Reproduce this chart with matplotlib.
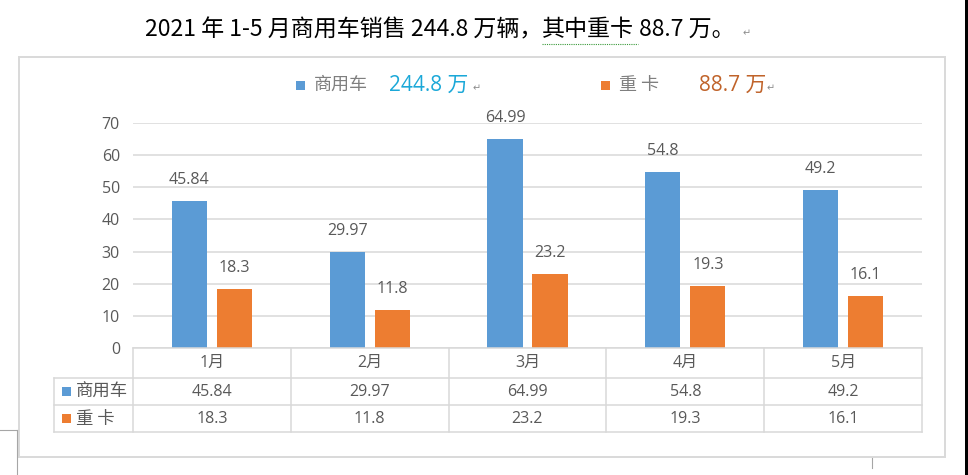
import matplotlib
matplotlib.use("Agg")
import matplotlib.pyplot as plt
from matplotlib.patches import Rectangle
from matplotlib.lines import Line2D
import numpy as np

# ---- data ----
months = ["1月", "2月", "3月", "4月", "5月"]
commercial = [45.84, 29.97, 64.99, 54.8, 49.2]
heavy = [18.3, 11.8, 23.2, 19.3, 16.1]
series_names = ["商用车", "重 卡"]
row_labels = ["商用车", "重 卡"]
commercial_txt = ["45.84", "29.97", "64.99", "54.8", "49.2"]
heavy_txt = ["18.3", "11.8", "23.2", "19.3", "16.1"]
yticks = [0, 10, 20, 30, 40, 50, 60, 70]
title_a = "2021 年 1-5 月商用车销售 244.8 万辆，"
title_b = "其中重卡"
title_c = " 88.7 万。"

BLUE = "#5b9bd5"
ORANGE = "#ed7d31"
GRID = "#d9d9d9"
TXT = "#595959"
NUM = ["Open Sans", "Noto Sans CJK SC", "DejaVu Sans"]
CJK = ["Noto Sans CJK SC", "DejaVu Sans"]

W, H = 968, 475
fig = plt.figure(figsize=(W / 100, H / 100), dpi=100)
fig.patch.set_facecolor("white")

def fx(x):
    return x / W

def fy(y):
    return 1 - y / H

# chart frame
fig.add_artist(Rectangle((fx(19), fy(457)), fx(945) - fx(19), fy(57) - fy(457),
                         transform=fig.transFigure, facecolor="white",
                         edgecolor=GRID, lw=1.4, zorder=0))

# plot axes
left, right, y0, y70 = 133, 922, 348.3, 122.7
ax = fig.add_axes([fx(left), fy(y0), fx(right) - fx(left), fy(y70) - fy(y0)])
ax.set_facecolor("none")
x = np.arange(len(months))
bw = 0.222
off = 0.1426
b1 = ax.bar(x - off, commercial, bw, color=BLUE, zorder=3)
b2 = ax.bar(x + off, heavy, bw, color=ORANGE, zorder=3)
for bars, labs in ((b1, commercial_txt), (b2, heavy_txt)):
    for r, t in zip(bars, labs):
        ax.annotate(t, (r.get_x() + r.get_width() / 2, r.get_height()),
                    xytext=(0, 12.2), textcoords="offset points",
                    ha="center", va="baseline", fontsize=11.5,
                    color=TXT, family=NUM)
ax.set_xlim(-0.5, len(months) - 0.5)
ax.set_ylim(0, 70)
ax.set_yticks(yticks)
ax.set_yticklabels([str(v) for v in yticks], family=NUM, fontsize=11.5, color=TXT)
ax.tick_params(axis="y", length=0, pad=9.4)
ax.set_xticks([])
for s in ax.spines.values():
    s.set_visible(False)
ax.grid(axis="y", color=GRID, lw=1.1, zorder=0)

# ---- data table ----
cols = [left + i * (right - left) / len(months) for i in range(len(months) + 1)]
rows = [348.3, 378, 405, 432.3]
lab_left = 54
lc = GRID
lw = 1.1
def hline(y, x1, x2):
    fig.add_artist(Line2D([fx(x1), fx(x2)], [fy(y), fy(y)], transform=fig.transFigure,
                          color=lc, lw=lw))
def vline(x_, y1, y2):
    fig.add_artist(Line2D([fx(x_), fx(x_)], [fy(y1), fy(y2)], transform=fig.transFigure,
                          color=lc, lw=lw))
hline(rows[0], left, right)
for yy in rows[1:]:
    hline(yy, lab_left, right)
for xx in cols:
    vline(xx, rows[0], rows[3])
vline(lab_left, rows[1], rows[3])

for i, m in enumerate(months):
    cx = (cols[i] + cols[i + 1]) / 2
    fig.text(fx(cx), fy((rows[0] + rows[1]) / 2), m, ha="center", va="center",
             fontsize=11.5, color=TXT, family=NUM)
    fig.text(fx(cx), fy((rows[1] + rows[2]) / 2), commercial_txt[i], ha="center",
             va="center", fontsize=11.5, color=TXT, family=NUM)
    fig.text(fx(cx), fy((rows[2] + rows[3]) / 2), heavy_txt[i], ha="center",
             va="center", fontsize=11.5, color=TXT, family=NUM)

for r, (lab, colr) in enumerate(zip(row_labels, (BLUE, ORANGE))):
    yc = (rows[r + 1] + rows[r + 2]) / 2
    fig.add_artist(Rectangle((fx(61.5), fy(yc + 4.5)), fx(9), 9 / H,
                             transform=fig.transFigure, color=colr, lw=0))
    fig.text(fx(76), fy(yc), lab, ha="left", va="center", fontsize=12.5,
             color=TXT, family=CJK)

# ---- legend ----
tot1 = sum(commercial)
tot2 = sum(heavy)
ly = 85
fig.add_artist(Rectangle((fx(296), fy(ly + 4.5)), fx(9), 9 / H,
                         transform=fig.transFigure, color=BLUE, lw=0))
fig.text(fx(314), fy(ly), series_names[0], ha="left", va="center", fontsize=13,
         color="#7f7f7f", family=CJK)
fig.text(fx(389), fy(ly), f"{tot1:.1f} 万", ha="left", va="center", fontsize=15,
         color="#1ba8d8", family=NUM)
fig.text(fx(473), fy(ly + 3), "↵", ha="left", va="center", fontsize=7,
         color="#8c8c8c", family=["DejaVu Sans"])
fig.add_artist(Rectangle((fx(601), fy(ly + 4.5)), fx(9), 9 / H,
                         transform=fig.transFigure, color=ORANGE, lw=0))
fig.text(fx(619), fy(ly), series_names[1], ha="left", va="center", fontsize=13,
         color="#7f7f7f", family=CJK)
fig.text(fx(699), fy(ly), f"{tot2:.1f} 万", ha="left", va="center", fontsize=15,
         color="#c0632a", family=NUM)
fig.text(fx(767), fy(ly + 3), "↵", ha="left", va="center", fontsize=7,
         color="#8c8c8c", family=["DejaVu Sans"])

# ---- title (drawn in pieces so the grammar underline sits under 其中重卡) ----
renderer = fig.canvas.get_renderer()
tfs = 16.6
xcur = 145
tb_x0 = tb_x1 = None
for piece in (title_a, title_b, title_c):
    t = fig.text(fx(xcur), fy(30), piece, ha="left", va="center", fontsize=tfs,
                 color="black", family=CJK)
    bb = t.get_window_extent(renderer)
    if piece == title_b:
        tb_x0, tb_x1 = xcur, xcur + bb.width
    xcur += bb.width
fig.text(fx(xcur + 8), fy(33), "↵", ha="left", va="center", fontsize=7,
         color="#8c8c8c", family=["DejaVu Sans"])
fig.add_artist(Line2D([fx(tb_x0), fx(tb_x1 + 4)], [fy(44), fy(44)], transform=fig.transFigure,
                      color="#3a9a3a", lw=0.8, ls=(0, (1, 1))))

# ---- page marks ----
mark = "#a6a6a6"
fig.add_artist(Line2D([fx(0), fx(17)], [fy(430), fy(430)], transform=fig.transFigure, color=mark, lw=0.8))
fig.add_artist(Line2D([fx(17), fx(17)], [fy(430), fy(475)], transform=fig.transFigure, color=mark, lw=0.8))
fig.add_artist(Line2D([fx(872), fx(872)], [fy(458), fy(468)], transform=fig.transFigure, color=mark, lw=0.8))
fig.add_artist(Rectangle((fx(965), 0), fx(3), 1, transform=fig.transFigure,
                         color="black", lw=0))

fig.savefig("out.png", dpi=100, facecolor="white")
